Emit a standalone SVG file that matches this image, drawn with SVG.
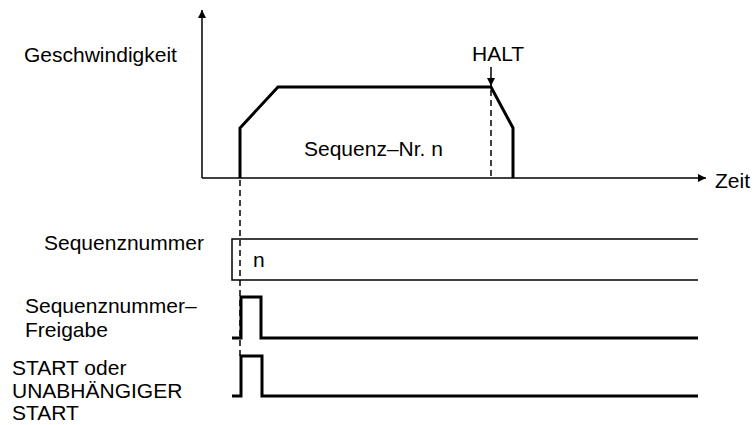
<svg xmlns="http://www.w3.org/2000/svg" width="755" height="425" viewBox="0 0 755 425">
<style>
.t{font-family:"Liberation Sans",Arial,sans-serif;font-size:21px;fill:#000}
.thin{fill:none;stroke:#000;stroke-width:1.5}
.thick{fill:none;stroke:#000;stroke-width:3}
.dash{fill:none;stroke:#000;stroke-width:1.5;stroke-dasharray:6 4}
</style>
<defs>
<marker id="ah" viewBox="0 0 10 10" refX="10" refY="5" markerWidth="10" markerHeight="8" markerUnits="userSpaceOnUse" orient="auto">
<path d="M0,0 L10,5 L0,10 Z" fill="#000"/>
</marker>
</defs>
<g id="connectors">
<path class="thin" d="M202 178 V10" marker-end="url(#ah)"/>
<path class="thin" d="M202 178 H706" marker-end="url(#ah)"/>
<path class="thin" d="M491 67 V86" marker-end="url(#ah)"/>
<path class="dash" d="M491 90 V176"/>
<path class="dash" d="M240 180 V360"/>
</g>
<g id="profile">
<path class="thick" d="M240 178 V128 L278 87 H491 L513 128 V178"/>
<text class="t" x="304" y="156">Sequenz–Nr. n</text>
</g>
<g id="labels">
<text class="t" x="24" y="62">Geschwindigkeit</text>
<text class="t" x="472" y="61" font-size="20">HALT</text>
<text class="t" x="715" y="188">Zeit</text>
</g>
<g id="seqnr">
<path class="thin" d="M698 239 H232 V280 H698"/>
<text class="t" x="44" y="250">Sequenznummer</text>
<text class="t" x="253" y="267">n</text>
</g>
<g id="freigabe">
<path class="thick" d="M232 338 H241 V297 H261 V338 H698"/>
<text class="t" x="25" y="313">Sequenznummer–</text>
<text class="t" x="25" y="337">Freigabe</text>
</g>
<g id="start">
<path class="thick" d="M232 396 H241 V356 H262 V396 H698"/>
<text class="t" x="12" y="375">START oder</text>
<text class="t" x="12" y="398">UNABHÄNGIGER</text>
<text class="t" x="12" y="420">START</text>
</g>
</svg>
